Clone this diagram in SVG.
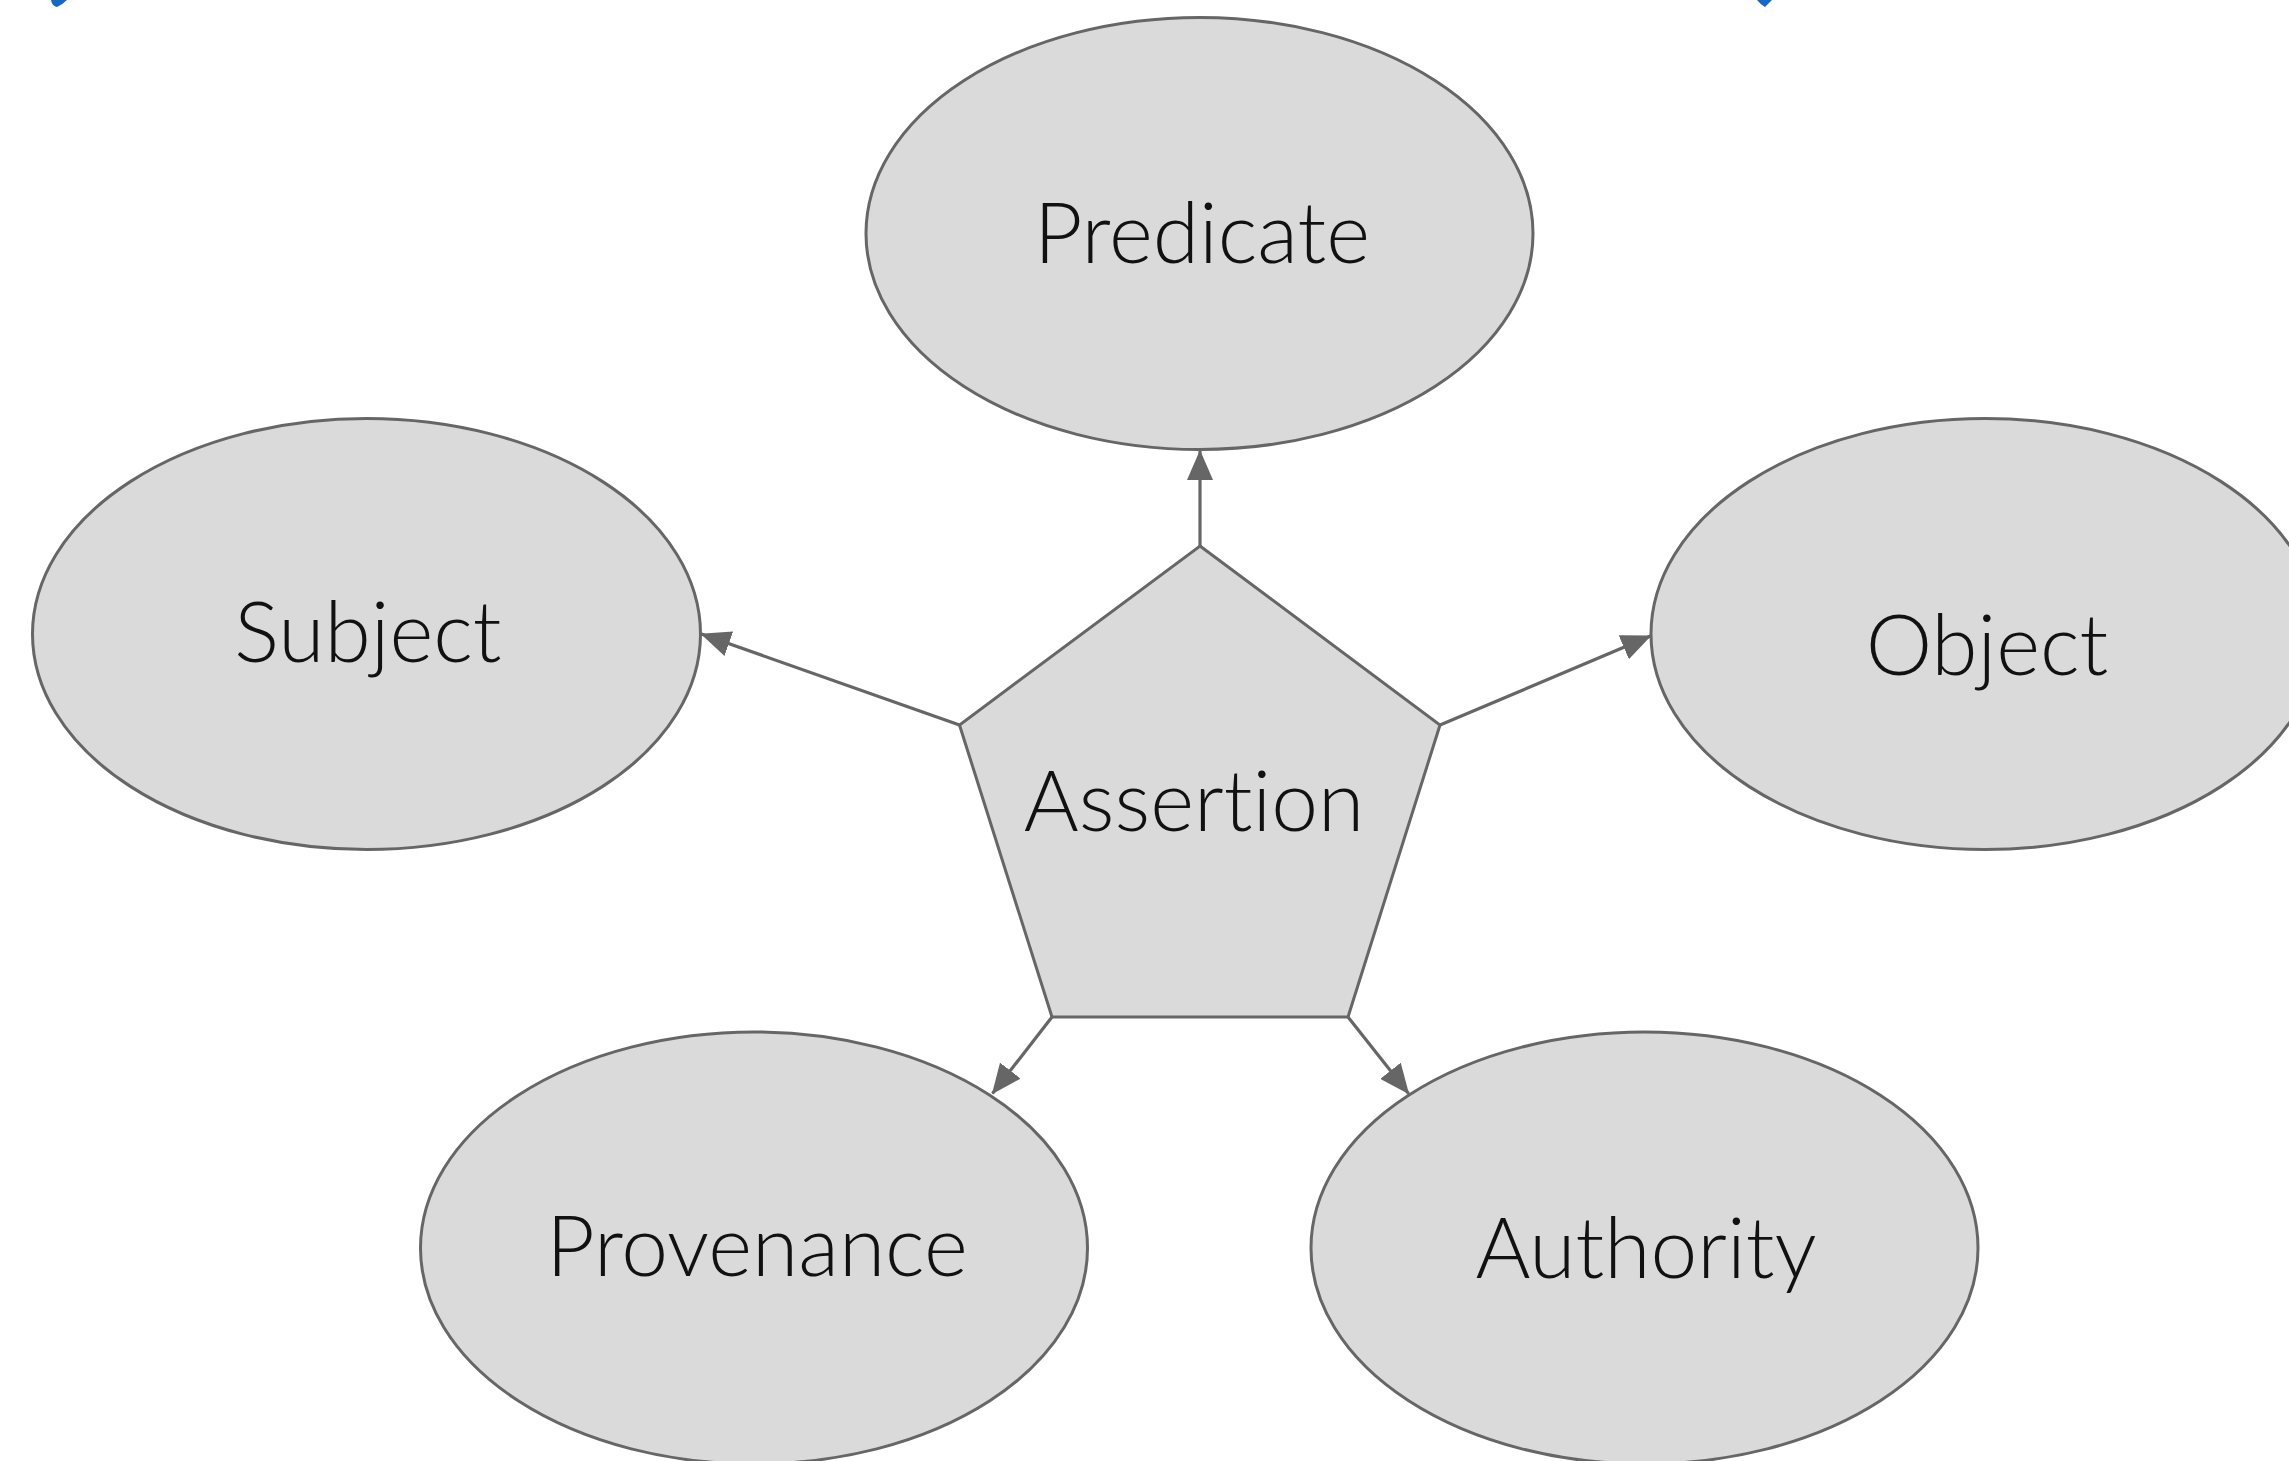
<svg xmlns="http://www.w3.org/2000/svg" width="2289" height="1461" viewBox="0 0 2289 1461">
<style>
.node{fill:#dadada;stroke:#666666;stroke-width:3}
.lbl{font-family:"Lato","Open Sans","Liberation Sans",sans-serif;font-weight:300;font-size:84px;fill:#111111;text-anchor:middle;font-variant-ligatures:none;font-feature-settings:"liga" 0,"clig" 0,"dlig" 0,"calt" 0}
.edge{stroke:#666666;stroke-width:3.2;fill:none}
.mark{fill:#1668c4}
</style>
<defs>
<marker id="arrow" markerUnits="userSpaceOnUse" viewBox="0 0 30 26" refX="29" refY="13" markerWidth="30" markerHeight="26" orient="auto">
<path d="M0,0 L30,13 L0,26 Z" fill="#666666"/>
</marker>
</defs>
<rect width="2289" height="1461" fill="#ffffff"/>
<path class="mark" d="M51,0 L67,0 Q62,5 57,7 Q52,6 51,0 Z"/>
<path class="mark" d="M1757,0 L1772,0 Q1768,4 1765,7 Q1760,4 1757,0 Z"/>
<g id="predicate"><ellipse class="node" cx="1199.5" cy="233.5" rx="333.5" ry="216"/><text class="lbl" x="1202" y="263">Predicate</text></g>
<g id="subject"><ellipse class="node" cx="366.5" cy="634" rx="334" ry="215.5"/><text class="lbl" x="368" y="662">Subject</text></g>
<g id="object"><ellipse class="node" cx="1985" cy="634" rx="334" ry="215.5"/><text class="lbl" x="1987" y="675">Object</text></g>
<g id="provenance"><ellipse class="node" cx="754" cy="1248" rx="333.5" ry="216"/><text class="lbl" x="757" y="1276">Provenance</text></g>
<g id="authority"><ellipse class="node" cx="1644.5" cy="1248" rx="333.5" ry="216"/><text class="lbl" x="1646" y="1278">Authority</text></g>
<g id="assertion"><polygon class="node" points="1200,546 1440,725 1348,1017 1052,1017 959.5,725"/><text class="lbl" x="1194" y="831">Assertion</text></g>
<g id="connectors">
<line class="edge" x1="1200" y1="546" x2="1200" y2="451" marker-end="url(#arrow)"/>
<line class="edge" x1="959.5" y1="725" x2="701.5" y2="634" marker-end="url(#arrow)"/>
<line class="edge" x1="1440" y1="725" x2="1650.5" y2="636" marker-end="url(#arrow)"/>
<line class="edge" x1="1052" y1="1017" x2="992.5" y2="1093.5" marker-end="url(#arrow)"/>
<line class="edge" x1="1348" y1="1017" x2="1408.5" y2="1093.5" marker-end="url(#arrow)"/>
</g>
</svg>
